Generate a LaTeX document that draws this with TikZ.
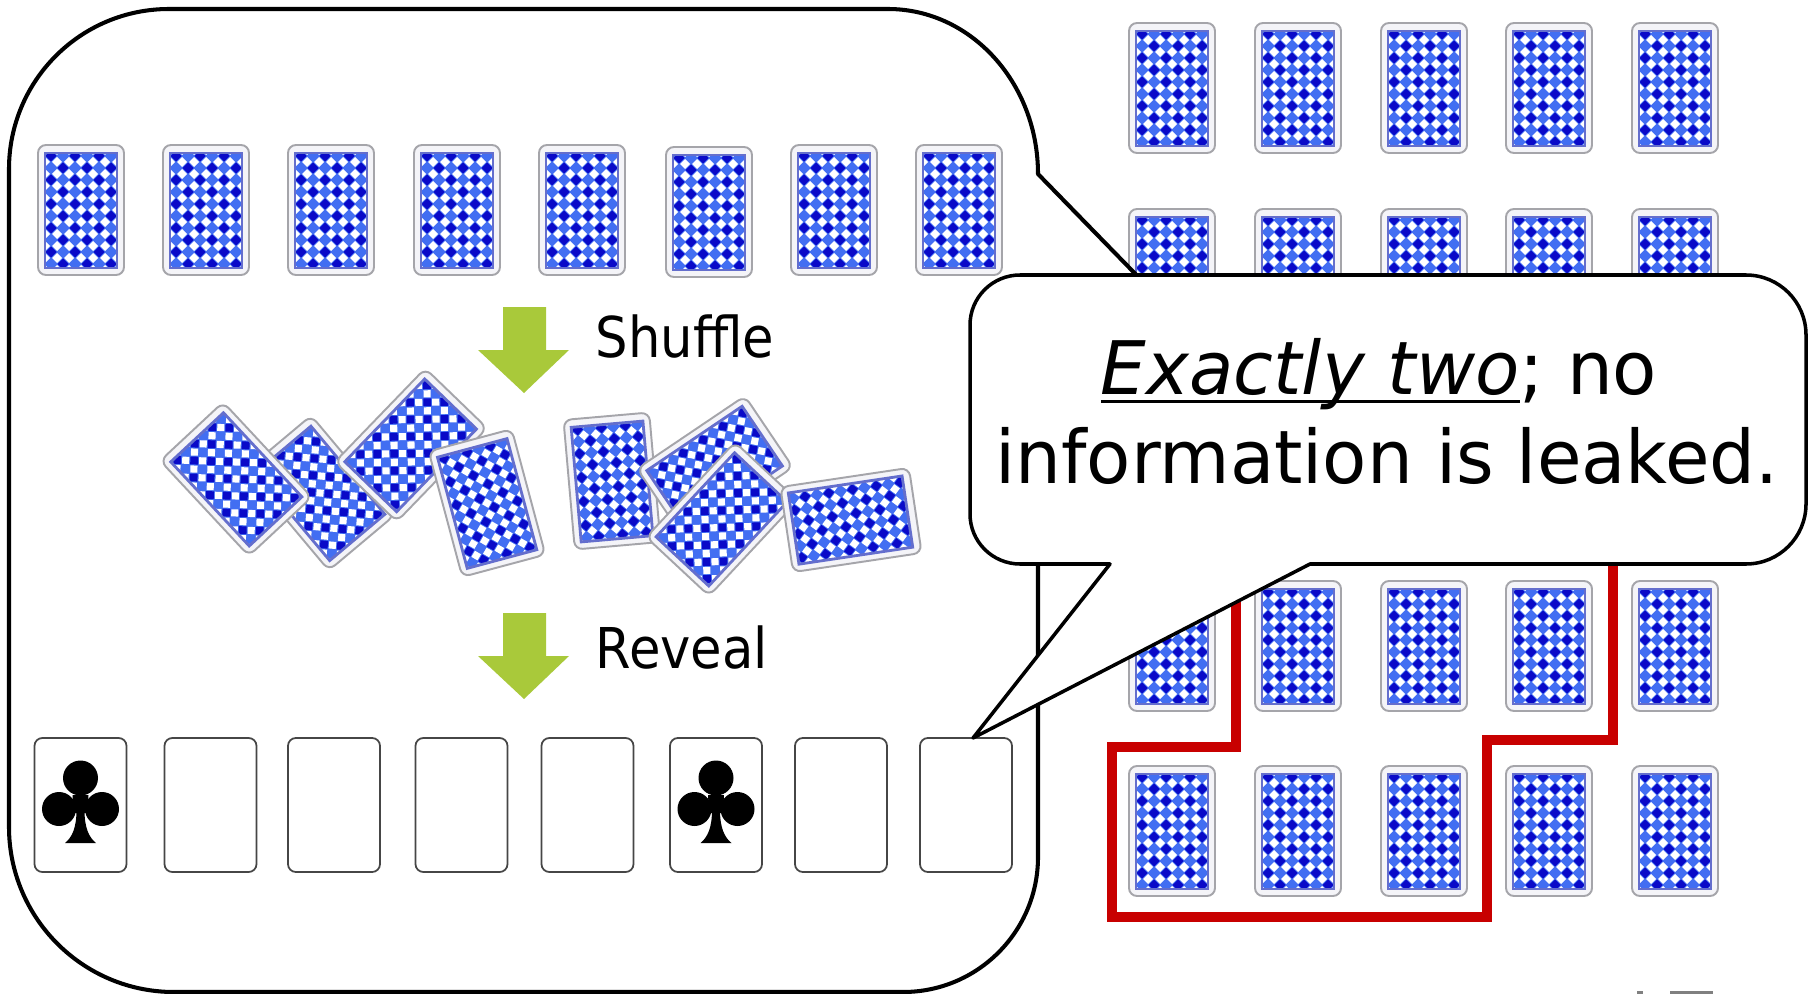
\documentclass[tikz,border=0pt]{standalone}
\usepackage{fontspec}
\setmainfont{DejaVu Sans}
\newfontfamily\stepfnt[FakeStretch=0.91]{DejaVu Sans}
\newfontfamily\notefnt[FakeStretch=0.98]{DejaVu Sans}

\definecolor{cardedge}{RGB}{165,165,170}
\definecolor{cardface}{RGB}{244,244,248}
\definecolor{backmid}{RGB}{66,110,242}
\definecolor{backdark}{RGB}{10,10,200}
\definecolor{backframe}{RGB}{100,110,205}
\definecolor{stepgreen}{RGB}{169,201,58}
\definecolor{markred}{RGB}{200,0,0}
\definecolor{faceedge}{RGB}{70,70,70}

% underline that runs through descenders instead of below them
\newcommand{\ulitext}[1]{\setbox0=\hbox{#1}\rlap{\rule[-0.128em]{\wd0}{0.042em}}\box0}

\tikzset{
  % face-down playing card, centred on the pic origin (units: px, y downwards)
  cardback/.pic={
    \path[draw=cardedge, fill=cardface, line width=0.55pt, rounded corners=0.08cm]
      (-43,-65) rectangle (43,65);
    \fill[backmid] (-36,-57) rectangle (36,58);
    \begin{scope}
      \clip (-36,-57) rectangle (36,58);
      \fill[white] \foreach \x in {-36,-24,...,36} {\foreach \y in {-60,-48,...,60}
        {(\x-5,\y) -- (\x,\y-5) -- (\x+5,\y) -- (\x,\y+5) -- cycle}};
      \fill[backdark]
        \foreach \y in {-54,-30,-6,18,42} {\foreach \x in {-30,-6,18}
          {(\x-5.5,\y) -- (\x,\y-5.5) -- (\x+5.5,\y) -- (\x,\y+5.5) -- cycle}}
        \foreach \y in {-42,-18,6,30,54} {\foreach \x in {-18,6,30}
          {(\x-5.5,\y) -- (\x,\y-5.5) -- (\x+5.5,\y) -- (\x,\y+5.5) -- cycle}};
    \end{scope}
    \draw[backframe, line width=0.8pt] (-36,-57) rectangle (36,58);
  },
  % club suit symbol
  clubsuit/.pic={
    \fill (0,-27) circle[radius=17.5];
    \fill (-21.5,4) circle[radius=17];
    \fill (21.5,4) circle[radius=17];
    \fill (-8,-10) -- (8,-10) -- (7,8) -- (-7,8) -- cycle;
    \fill (-4,5) .. controls (-4,22) and (-8,32) .. (-15.5,38) -- (15.5,38)
          .. controls (8,32) and (4,22) .. (4,5) -- cycle;
  },
  facecard/.style={draw=faceedge, fill=white, line width=0.5pt, rounded corners=0.08cm,
    minimum width=0.92cm, minimum height=1.34cm, inner sep=0pt},
  bubble/.style={draw=black, fill=white, line width=1.15pt, line join=round},
  steplabel/.style={anchor=base west, inner sep=0pt, font=\stepfnt\fontsize{16}{19}\selectfont},
  noteline/.style={anchor=base, inner sep=0pt, font=\notefnt\fontsize{21}{25}\selectfont},
  steparrow/.style={fill=stepgreen},
}

\begin{document}
\begin{tikzpicture}[x=0.01cm, y=-0.01cm]
\useasboundingbox (0,0) rectangle (1815,994);

% ---- 5 x 5 grid of face-down cards ----
\foreach \cx in {1172,1298,1424,1549,1675}
  \foreach \cy in {88,274,460,646,831}
    \pic at (\cx,\cy) {cardback};

% ---- red outline around the selected cards ----
\draw[markred, line width=2.85pt, line join=miter]
  (1236,540) -- (1236,747) -- (1112,747) -- (1112,917) -- (1487,917)
  -- (1487,740) -- (1613,740) -- (1613,540);

% ---- left speech bubble ----
\draw[bubble]
  (1038,174) -- (1190,330) -- (1038,480) -- (1038,857)
  .. controls (1038,931.6) and (977.6,992) .. (903,992)
  -- (174,992)
  .. controls (82.9,992) and (9,918.1) .. (9,827)
  -- (9,169)
  .. controls (9,80.6) and (80.6,9) .. (169,9)
  -- (888,9)
  .. controls (970.8,9) and (1038,82.9) .. (1038,174) -- cycle;

% row of face-down cards
\foreach \cx/\cy in {81/210,206/210,331/210,457/210,582/210,709/212,834/210,959/210}
  \pic at (\cx,\cy) {cardback};

% step arrows and labels
\fill[steparrow] (503,307) -- (546,307) -- (546,350) -- (569,350) -- (524,393)
  -- (478,350) -- (503,350) -- cycle;
\node[steplabel] (shuffle) at (595,357) {Shuffle};

\fill[steparrow] (503,613) -- (546,613) -- (546,656) -- (569,656) -- (524,699)
  -- (478,656) -- (503,656) -- cycle;
\node[steplabel] (reveal) at (595,668) {Reveal};

% shuffled cards
\pic[rotate=40]    at (320,493) {cardback};
\pic[rotate=43]    at (236,479) {cardback};
\pic[rotate=-44]   at (411,445) {cardback};
\pic[rotate=15]    at (487,503) {cardback};
\pic[rotate=5]     at (612,481) {cardback};
\pic[rotate=-56]   at (715,468) {cardback};
\pic[rotate=-43]   at (722,519) {cardback};
\pic[rotate=-81.5] at (851,520) {cardback};

% revealed cards
\foreach \cx [count=\i] in {80.5,210.5,334,461.5,587.5,716,841,966}
  \node[facecard] (r\i) at (\cx,805) {};
\pic at (r1.center) {clubsuit};
\pic at (r6.center) {clubsuit};

% ---- callout ----
\coordinate (tip) at (973,738);
\draw[bubble, line width=1pt]
  (1110,564) -- (tip) -- (1310,564) -- (1746,564)
  .. controls (1779.1,564) and (1806,537.1) .. (1806,504)
  -- (1806,335)
  .. controls (1806,301.9) and (1779.1,275) .. (1746,275)
  -- (1020,275)
  .. controls (992.4,275) and (970,297.4) .. (970,325)
  -- (970,514)
  .. controls (970,541.6) and (992.4,564) .. (1020,564) -- cycle;

\node[noteline] (noteA) at (1379,394) {\ulitext{\itshape Exactly two}; no};
\node[noteline] (noteB) at (1387,483) {information is leaked.};

% clipped marks at the lower edge
\fill[gray] (1637,991) rectangle (1643,994);
\fill[gray] (1670,991) rectangle (1713,994);
\end{tikzpicture}
\end{document}
